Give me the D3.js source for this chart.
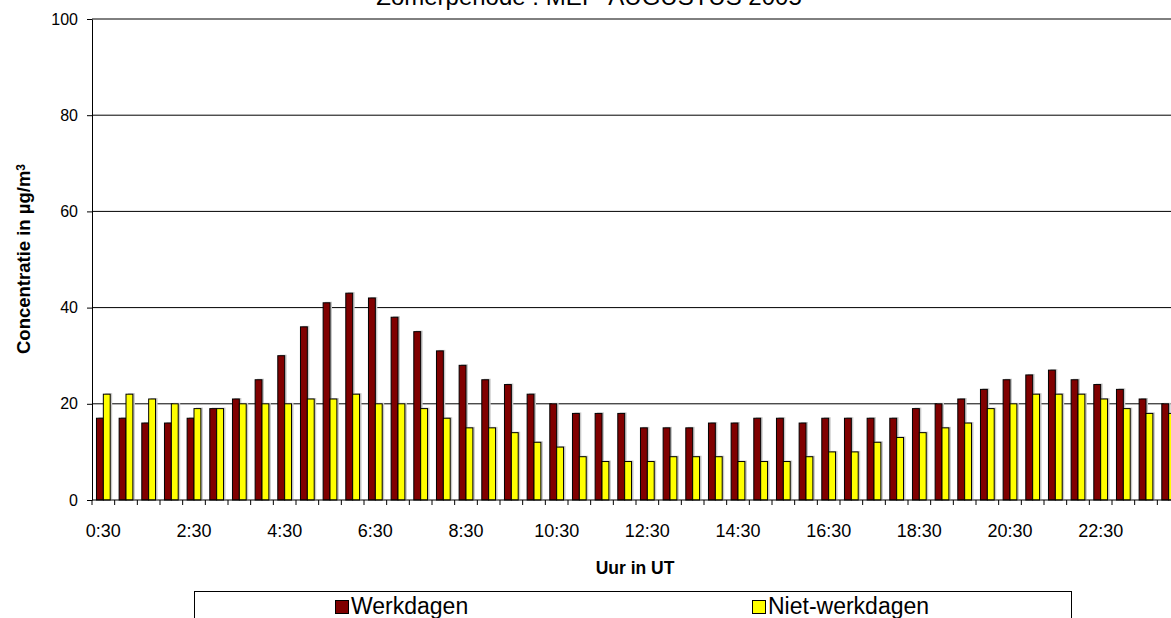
<!DOCTYPE html>
<html>
<head>
<meta charset="utf-8">
<script src="https://cdn.jsdelivr.net/npm/d3@7"></script>
<style>
  body { margin: 0; background: #fff; overflow: hidden; }
  svg { display: block; font-family: Arial, "Liberation Sans", sans-serif; }
</style>
</head>
<body>
<div id="chart"></div>
<script>
// Half-hour categories (UT)
const hours = ["0:30","1:00","1:30","2:00","2:30","3:00","3:30","4:00","4:30","5:00","5:30","6:00",
               "6:30","7:00","7:30","8:00","8:30","9:00","9:30","10:00","10:30","11:00","11:30","12:00",
               "12:30","13:00","13:30","14:00","14:30","15:00","15:30","16:00","16:30","17:00","17:30","18:00",
               "18:30","19:00","19:30","20:00","20:30","21:00","21:30","22:00","22:30","23:00","23:30","24:00"];

const werkdagen = [17,17,16,16,17,19,21,25,30,36,41,43,42,38,35,31,28,25,24,22,20,18,18,18,
                   15,15,15,16,16,17,17,16,17,17,17,17,19,20,21,23,25,26,27,25,24,23,21,20];

const nietWerkdagen = [22,22,21,20,19,19,20,20,20,21,21,22,20,20,19,17,15,15,14,12,11,9,8,8,
                       8,9,9,9,8,8,8,9,10,10,12,13,14,15,16,19,20,22,22,22,21,19,18,18];

const xLabels = ["0:30","2:30","4:30","6:30","8:30","10:30","12:30","14:30","16:30","18:30","20:30","22:30"];
const yTicks = [0, 20, 40, 60, 80, 100];
const seriesNames = ["Werkdagen", "Niet-werkdagen"];
const seriesColors = ["#800000", "#ffff00"];

let width = 1171,
    height = 618,
    plotLeft = 92,
    plotRight = 1180,   // plot runs past the window edge, as in the original
    plotTop = 19,
    plotBottom = 500;

let svg = d3.select("#chart")
    .append("svg")
    .attr("width", width)
    .attr("height", height);

let xCat = d3.scaleBand()
    .domain(hours)
    .range([plotLeft, plotRight]);

let x1 = d3.scaleBand()
    .domain(seriesNames)
    .range([0, xCat.bandwidth()])
    .paddingOuter(0.65);

let y = d3.scaleLinear()
    .domain([0, 100])
    .range([plotBottom, plotTop]);

let color = d3.scaleOrdinal()
    .domain(seriesNames)
    .range(seriesColors);

let rows = hours.map((h, i) => ({ hour: h, values: [
    { name: seriesNames[0], value: werkdagen[i] },
    { name: seriesNames[1], value: nietWerkdagen[i] }
]}));

// Title (mostly cut off at the top)
svg.append("text")
    .attr("x", 589)
    .attr("y", 5)
    .attr("text-anchor", "middle")
    .style("font-size", "24px")
    .text("Zomerperiode : MEI - AUGUSTUS 2005");

// Gridlines
svg.append("g")
    .selectAll("line")
    .data(yTicks.filter(d => d > 0))
    .join("line")
    .attr("x1", plotLeft)
    .attr("x2", plotRight)
    .attr("y1", d => y(d))
    .attr("y2", d => y(d))
    .attr("stroke", "#000")
    .attr("stroke-width", 1);

// Bars, with a light drop shadow behind them
let groups = svg.append("g")
    .selectAll("g")
    .data(rows)
    .join("g")
    .attr("transform", d => `translate(${xCat(d.hour)},0)`);

groups.selectAll("rect.shadow")
    .data(d => d.values)
    .join("rect")
    .attr("class", "shadow")
    .attr("x", d => x1(d.name) + 2)
    .attr("y", d => y(d.value) - 1)
    .attr("width", x1.bandwidth())
    .attr("height", d => y(0) - y(d.value))
    .attr("fill", "#c8c8c8");

groups.selectAll("rect.bar")
    .data(d => d.values)
    .join("rect")
    .attr("class", "bar")
    .attr("x", d => x1(d.name))
    .attr("y", d => y(d.value))
    .attr("width", x1.bandwidth())
    .attr("height", d => y(0) - y(d.value))
    .attr("fill", d => color(d.name))
    .attr("stroke", "#000")
    .attr("stroke-width", 1);

// Y axis
let yAxis = svg.append("g")
    .attr("transform", `translate(${plotLeft},0)`)
    .call(d3.axisLeft(y).tickValues(yTicks).tickSize(5).tickSizeOuter(0).tickPadding(9));
yAxis.select(".domain").attr("stroke", "#000");
yAxis.selectAll("text").style("font-size", "16px").attr("fill", "#000");

// X axis line and ticks between categories
svg.append("line")
    .attr("x1", plotLeft).attr("x2", plotRight)
    .attr("y1", plotBottom).attr("y2", plotBottom)
    .attr("stroke", "#000");

svg.append("g")
    .selectAll("line")
    .data(hours.map(h => xCat(h)).concat([xCat.range()[1]]))
    .join("line")
    .attr("x1", d => d).attr("x2", d => d)
    .attr("y1", plotBottom).attr("y2", plotBottom + 5)
    .attr("stroke", "#000");

let xAxis = svg.append("g")
    .attr("transform", `translate(0,${plotBottom})`)
    .call(d3.axisBottom(xCat).tickValues(xLabels).tickSize(0).tickPadding(24));
xAxis.select(".domain").remove();
xAxis.selectAll("text").style("font-size", "18px").attr("fill", "#000");

// Axis titles
svg.append("text")
    .attr("x", (plotLeft + plotRight) / 2 - 1)
    .attr("y", 574)
    .attr("text-anchor", "middle")
    .style("font-size", "17.5px")
    .style("font-weight", "bold")
    .text("Uur in UT");

let yTitle = svg.append("text")
    .attr("transform", "translate(30,259) rotate(-90)")
    .attr("text-anchor", "middle")
    .style("font-size", "18.5px")
    .style("font-weight", "bold");
yTitle.append("tspan").text("Concentratie in µg/m");
yTitle.append("tspan").attr("dy", "-0.45em").style("font-size", "12px").text("3");

// Legend (box runs past the bottom edge)
let legend = svg.append("g");
legend.append("rect")
    .attr("x", 194.5).attr("y", 591.5)
    .attr("width", 877).attr("height", 60)
    .attr("fill", "#fff")
    .attr("stroke", "#000");

let legendX = [335, 752];
seriesNames.forEach((name, i) => {
    legend.append("rect")
        .attr("x", legendX[i] + 0.5).attr("y", 600.5)
        .attr("width", 13).attr("height", 13)
        .attr("fill", color(name))
        .attr("stroke", "#000");
    legend.append("text")
        .attr("x", legendX[i] + 16)
        .attr("y", 614)
        .style("font-size", "23px")
        .text(name);
});
</script>
</body>
</html>
